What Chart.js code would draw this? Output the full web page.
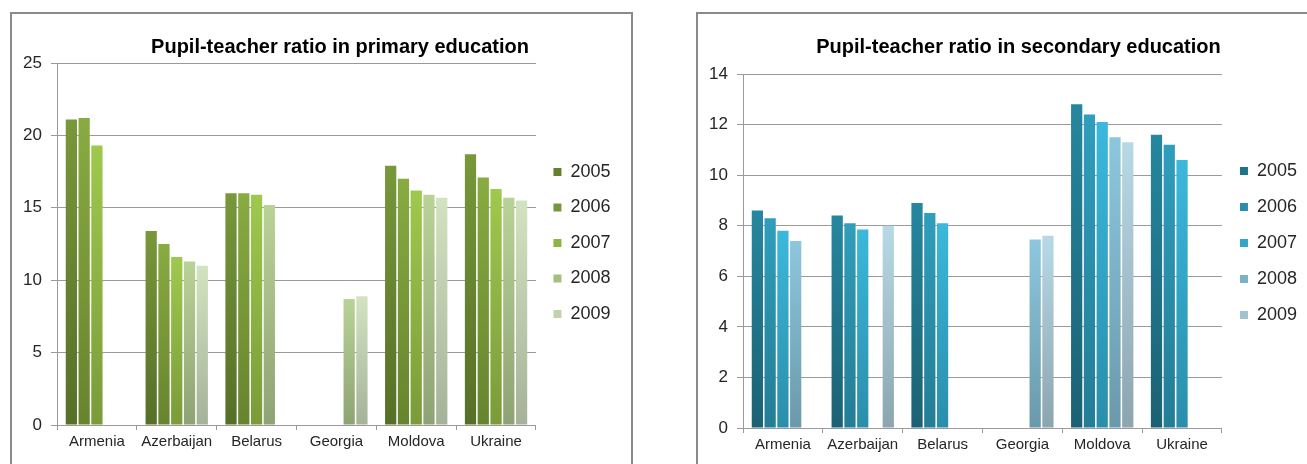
<!DOCTYPE html>
<html>
<head>
<meta charset="utf-8">
<script src="https://cdn.jsdelivr.net/npm/chart.js@4/dist/chart.umd.min.js"></script>
<style>
  html, body { margin: 0; padding: 0; background: #ffffff; overflow: hidden; width: 1307px; height: 464px; }
  .frame { position: absolute; border: 2px solid #8a8a8a; border-bottom: none; box-sizing: border-box; }
  canvas { position: absolute; }
</style>
</head>
<body>
<div class="frame" style="left:10px; top:12px; width:623px; height:460px;"></div>
<div class="frame" style="left:696px; top:12px; width:640px; height:460px;"></div>
<canvas id="primary" width="618" height="450" style="left:12px; top:14px; width:618px; height:450px;"></canvas>
<canvas id="secondary" width="620" height="450" style="left:698px; top:14px; width:620px; height:450px;"></canvas>
<script>
// ---- Data ----
const categories = ['Armenia', 'Azerbaijan', 'Belarus', 'Georgia', 'Moldova', 'Ukraine'];
const years = ['2005', '2006', '2007', '2008', '2009'];

const primary2005 = [21.1, 13.4, 16.0, null, 17.9, 18.7];
const primary2006 = [21.2, 12.5, 16.0, null, 17.0, 17.1];
const primary2007 = [19.3, 11.6, 15.9, null, 16.2, 16.3];
const primary2008 = [null, 11.3, 15.2, 8.7, 15.9, 15.7];
const primary2009 = [null, 11.0, null, 8.9, 15.7, 15.5];

const secondary2005 = [8.6, 8.4, 8.9, null, 12.8, 11.6];
const secondary2006 = [8.3, 8.1, 8.5, null, 12.4, 11.2];
const secondary2007 = [7.8, 7.85, 8.1, null, 12.1, 10.6];
const secondary2008 = [7.4, null, null, 7.45, 11.5, null];
const secondary2009 = [null, 8.0, null, 7.6, 11.3, null];

const primaryTicks = [0, 5, 10, 15, 20, 25];
const secondaryTicks = [0, 2, 4, 6, 8, 10, 12, 14];

const primaryTitle = 'Pupil-teacher ratio in primary education';
const secondaryTitle = 'Pupil-teacher ratio in secondary education';

// ---- Styles ----
const greenTop    = ['#78983a', '#88ab42', '#9fc94d', '#b9d396', '#d3e3c0'];
const greenBottom = ['#566f27', '#66842e', '#7a9b39', '#8da374', '#a5b299'];
const greenSolid  = ['#62802d', '#76983a', '#8cb542', '#a5bf82', '#c2d2ae'];
const blueTop     = ['#25879f', '#309ebc', '#3bb8dc', '#8dc7dd', '#b7d9e6'];
const blueBottom  = ['#1b6173', '#237d95', '#2a8eaa', '#6a99ab', '#8ca5af'];
const blueSolid   = ['#1f7389', '#2a8eaa', '#33a6c6', '#7bb2c6', '#a3c2ce'];

const FONT = "'Liberation Sans', Arial, sans-serif";
const GRID = '#9a9a9a';
const TEXT = '#262626';

function gradientFill(top, bottom, solid) {
  return (ctx) => {
    if (ctx.type !== 'data' || ctx.raw == null) return solid;
    const chart = ctx.chart;
    const y = chart.scales.y;
    if (!chart.chartArea || !y) return solid;
    const yTop = y.getPixelForValue(ctx.raw);
    const yBot = y.getPixelForValue(0);
    if (!isFinite(yTop) || !isFinite(yBot) || Math.abs(yBot - yTop) < 1) return solid;
    const g = chart.ctx.createLinearGradient(0, yTop, 0, yBot);
    g.addColorStop(0, top);
    g.addColorStop(1, bottom);
    return g;
  };
}

const titlePlacer = {
  id: 'titlePlacer',
  afterLayout(chart, args, opts) {
    const t = chart.titleBlock;
    if (t && opts && opts.center != null) {
      const half = (t.right - t.left) / 2;
      t.left = opts.center - half;
      t.right = opts.center + half;
    }
    const l = chart.legend;
    if (l && opts && opts.legendShift) {
      l.top += opts.legendShift;
      l.bottom += opts.legendShift;
    }
  }
};

function makeChart(id, series, top, bottom, solid, ticks, title, cfg) {
  const datasets = series.map((values, i) => ({
    label: years[i],
    data: values,
    backgroundColor: gradientFill(top[i], bottom[i], solid[i]),
    borderWidth: 0,
    barPercentage: 0.88,
    categoryPercentage: 0.8
  }));
  return new Chart(document.getElementById(id), {
    type: 'bar',
    data: { labels: categories, datasets },
    plugins: [titlePlacer],
    options: {
      responsive: false,
      animation: false,
      devicePixelRatio: 1,
      layout: { padding: { left: 0, right: cfg.padRight, top: 0, bottom: 0 } },
      scales: {
        x: {
          grid: { display: true, offset: true, drawOnChartArea: false, drawTicks: true, tickLength: 5, color: GRID, lineWidth: 1 },
          border: { display: true, color: GRID, width: 1 },
          ticks: { color: TEXT, font: { family: FONT, size: 15 }, padding: 3, maxRotation: 0, autoSkip: false },
          afterFit: (s) => { s.height = cfg.xHeight; }
        },
        y: {
          min: 0,
          max: ticks[ticks.length - 1],
          afterBuildTicks: (s) => { s.ticks = ticks.map(v => ({ value: v })); },
          grid: { display: true, drawOnChartArea: true, drawTicks: true, tickLength: 6, color: GRID, lineWidth: 1 },
          border: { display: true, color: GRID, width: 1 },
          ticks: { color: TEXT, font: { family: FONT, size: 17 }, padding: 9 },
          afterFit: (s) => { s.width = 45; }
        }
      },
      plugins: {
        title: {
          display: true,
          text: title,
          color: '#000000',
          font: { family: FONT, size: 20, weight: 'bold', lineHeight: 1.2 },
          padding: { top: cfg.titleTop, bottom: cfg.titleBottom }
        },
        titlePlacer: { center: cfg.titleCenter, legendShift: cfg.legendShift },
        legend: {
          display: true,
          position: 'right',
          align: 'center',
          labels: {
            boxWidth: 8,
            boxHeight: 8,
            padding: cfg.legendPad,
            color: TEXT,
            font: { family: FONT, size: 18 },
            generateLabels: (chart) => {
              const items = Chart.defaults.plugins.legend.labels.generateLabels(chart);
              return items.map(it => Object.assign(it, {
                fillStyle: solid[it.datasetIndex],
                strokeStyle: solid[it.datasetIndex],
                lineWidth: 0
              }));
            }
          }
        },
        tooltip: { enabled: false }
      }
    }
  });
}

makeChart('primary',
  [primary2005, primary2006, primary2007, primary2008, primary2009],
  greenTop, greenBottom, greenSolid, primaryTicks, primaryTitle,
  { padRight: 9.5, xHeight: 39, titleTop: 21, titleBottom: 4, titleCenter: 328, legendPad: 17.5, legendShift: 4 });

makeChart('secondary',
  [secondary2005, secondary2006, secondary2007, secondary2008, secondary2009],
  blueTop, blueBottom, blueSolid, secondaryTicks, secondaryTitle,
  { padRight: 11, xHeight: 36, titleTop: 21, titleBottom: 15, titleCenter: 320.5, legendPad: 18, legendShift: 4 });
</script>
</body>
</html>
